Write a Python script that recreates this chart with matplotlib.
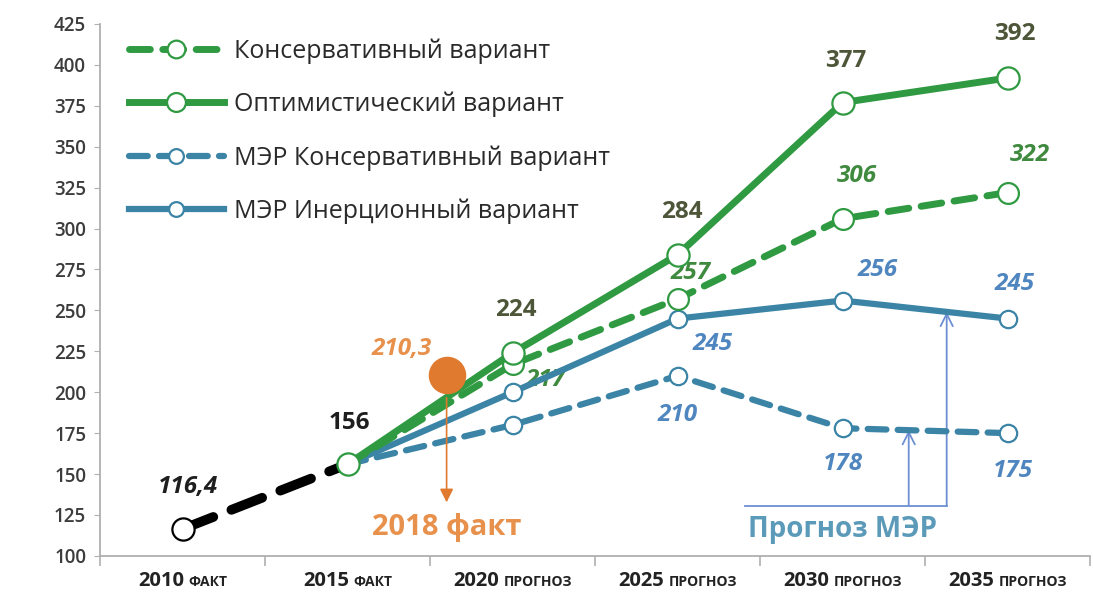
import numpy as np
import matplotlib.pyplot as plt
from matplotlib.offsetbox import TextArea, HPacker, AnnotationBbox

plt.rcParams['font.family'] = ['Open Sans', 'DejaVu Sans']

# categories
years = ['2010', '2015', '2020', '2025', '2030', '2035']
kinds = ['ФАКТ', 'ФАКТ', 'ПРОГНОЗ', 'ПРОГНОЗ', 'ПРОГНОЗ', 'ПРОГНОЗ']

# fact
fact_x = [0, 1]
fact_vals = [116.4, 156]
fact_labels = ['116,4', '156']

# forecasts (2015..2035)
fc_x = [1, 2, 3, 4, 5]
green_cons = [156, 217, 257, 306, 322]
green_opt = [156, 224, 284, 377, 392]
mer_cons = [156, 180, 210, 178, 175]
mer_inert = [156, 200, 245, 256, 245]

green_cons_labels = [None, '217', '257', '306', '322']
green_opt_labels = [None, '224', '284', '377', '392']
mer_cons_labels = [None, None, '210', '178', '175']
mer_inert_labels = [None, None, '245', '256', '245']

# 2018 actual
x2018 = 1.6
val2018 = 210.3

GREEN = '#2f9a41'
GREEN_TXT = '#3f8a3e'
OLIVE_TXT = '#4d5638'
BLUE = '#3b84a6'
BLUE_TXT = '#4f86bf'
ORANGE = '#e07a2e'
ORANGE_TXT = '#e8914c'
MER_TXT = '#5b9ab8'
MER_ARROW = '#6d8fd2'
VAL_FS = 17.5

fig = plt.figure(figsize=(10.93, 5.99), dpi=100)
ax = fig.add_axes([0.0915, 0.072, 0.906, 0.888])

mk = dict(marker='o', markerfacecolor='white', markeredgewidth=1.6)

l_bc, = ax.plot(fc_x, mer_cons, color=BLUE, lw=4.5, dashes=(3, 1.8),
                dash_capstyle='round', markersize=12.5, markeredgecolor=BLUE,
                zorder=2, label='МЭР Консервативный вариант', **mk)
l_bi, = ax.plot(fc_x, mer_inert, color=BLUE, lw=4.5, markersize=12.5,
                markeredgecolor=BLUE, zorder=3, label='МЭР Инерционный вариант', **mk)
l_gc, = ax.plot(fc_x, green_cons, color=GREEN, lw=5, dashes=(3, 1.8),
                dash_capstyle='round', markersize=15, markeredgecolor=GREEN,
                zorder=4, label='Консервативный вариант', **mk)
ax.plot(fact_x, fact_vals, color='black', lw=7, dashes=(3.4, 2.0),
        dash_capstyle='round', markersize=16, markeredgecolor='black',
        markevery=[0], zorder=5, **mk)
l_go, = ax.plot(fc_x, green_opt, color=GREEN, lw=5, markersize=16,
                markeredgecolor=GREEN, zorder=6, label='Оптимистический вариант', **mk)

# 2018 fact point and arrow
ax.plot([x2018], [val2018], 'o', color=ORANGE, markersize=26, zorder=7)
ax.annotate('', xy=(x2018, 131), xytext=(x2018, val2018 - 12),
            arrowprops=dict(arrowstyle='-|>', color=ORANGE, lw=1.2,
                            mutation_scale=20), zorder=7)
ax.text(x2018, 117.5, '2018 факт', color=ORANGE_TXT, fontsize=21,
        fontweight='bold', ha='center', va='center')
ax.annotate('210,3', (x2018, val2018), xytext=(-32, 19), textcoords='offset points',
            color=ORANGE_TXT, fontsize=VAL_FS, fontweight='bold', style='italic',
            ha='center', va='center')


# value labels
def put_labels(xs, vals, labels, offs, color, italic):
    for x, v, t, o in zip(xs, vals, labels, offs):
        if t is None:
            continue
        ax.annotate(t, (x, v), xytext=o, textcoords='offset points',
                    color=color, fontsize=VAL_FS, fontweight='bold',
                    style='italic' if italic else 'normal',
                    ha='center', va='center', zorder=1)


put_labels(fact_x[:1], fact_vals[:1], fact_labels[:1], [(4, 30)], '#1e1e1e', True)
put_labels(fact_x[1:], fact_vals[1:], fact_labels[1:], [(1, 30)], '#1e1e1e', False)
put_labels(fc_x, green_opt, green_opt_labels,
           [None, (2, 31), (3, 31), (2, 30), (5, 32)], OLIVE_TXT, False)
put_labels(fc_x, green_cons, green_cons_labels,
           [None, (24, -11), (9, 19), (10, 31), (16, 27)], GREEN_TXT, True)
put_labels(fc_x, mer_inert, mer_inert_labels,
           [None, None, (25, -18), (25, 22), (5, 25)], BLUE_TXT, True)
put_labels(fc_x, mer_cons, mer_cons_labels,
           [None, None, (0, -28), (0, -26), (4, -27)], BLUE_TXT, True)

# МЭР forecast bracket
xa, xb, x0 = 4.40, 4.63, 3.41
ybase = 130.7
ya = np.interp(xa, fc_x, mer_cons)
yb = np.interp(xb, fc_x, mer_inert)
ax.plot([x0, xb], [ybase, ybase], color=MER_ARROW, lw=1.3, zorder=1)
for xx, yy in [(xa, ya), (xb, yb)]:
    ax.annotate('', xy=(xx, yy), xytext=(xx, ybase),
                arrowprops=dict(arrowstyle='->', color=MER_ARROW, lw=1.3,
                                mutation_scale=22, shrinkA=0, shrinkB=0), zorder=1)
ax.text(4.0, 116, 'Прогноз МЭР', color=MER_TXT, fontsize=20,
        fontweight='bold', ha='center', va='center')

# axes
ax.set_xlim(-0.5, 5.5)
ax.set_ylim(100, 425)
ax.set_yticks(np.arange(100, 426, 25))
ax.tick_params(axis='y', length=4, color='#b0b0b0', labelsize=13.5,
               labelcolor='#3c3c3c', pad=6)
for lab in ax.get_yticklabels():
    lab.set_fontweight('semibold')
ax.set_xticks([])
ax.set_xticks(np.arange(-0.5, 5.6, 1), minor=True)
ax.tick_params(axis='x', which='minor', length=7, color='#b0b0b0', width=1.2)
for s in ['top', 'right']:
    ax.spines[s].set_visible(False)
for s in ['left', 'bottom']:
    ax.spines[s].set_color('#b0b0b0')
    ax.spines[s].set_linewidth(1.3)

# category labels: year + small caps word
for i, (yr, kd) in enumerate(zip(years, kinds)):
    box = HPacker(children=[
        TextArea(yr, textprops=dict(fontsize=14.5, fontweight='bold', color='#222222')),
        TextArea(kd, textprops=dict(fontsize=10, fontweight='bold', color='#222222')),
    ], align='baseline', pad=0, sep=3)
    ab = AnnotationBbox(box, (i, 0), xycoords=('data', 'axes fraction'),
                        xybox=(0, -11), boxcoords='offset points',
                        box_alignment=(0.5, 1), frameon=False,
                        annotation_clip=False)
    ax.add_artist(ab)

ax.legend(handles=[l_gc, l_go, l_bc, l_bi], loc='upper left',
          bbox_to_anchor=(0.02, 0.99), frameon=False, fontsize=18,
          handlelength=3.8, labelspacing=1.12, handletextpad=0.4,
          borderaxespad=0.0, borderpad=0.35, markerscale=0.85,
          labelcolor='#2a2a2a')

fig.savefig('out.png', dpi=100)
